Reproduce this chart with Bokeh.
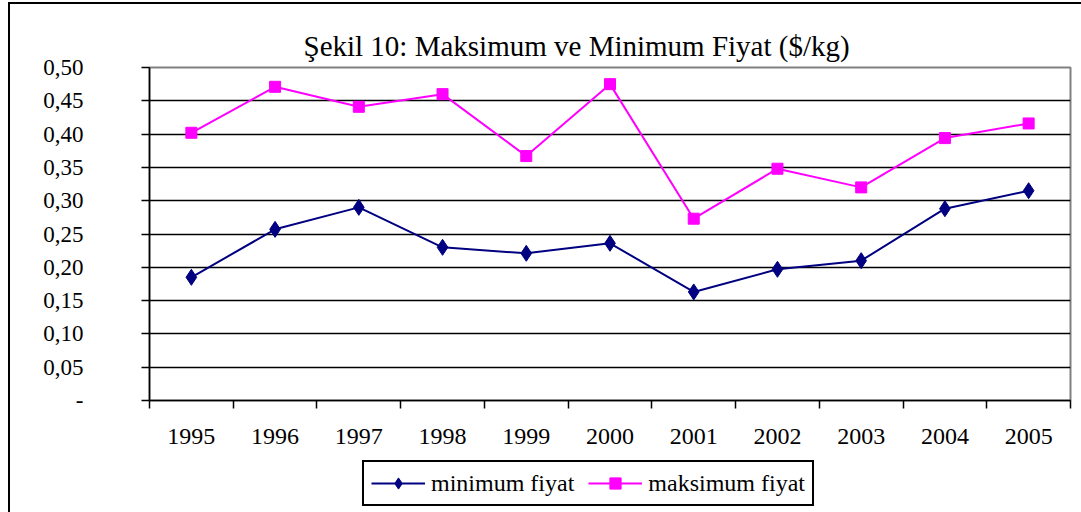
from bokeh.plotting import figure
from bokeh.layouts import column
from bokeh.models import FixedTicker, Legend, LegendItem, Title, Range1d
from bokeh.embed import file_html
from bokeh.resources import INLINE

years = [1995, 1996, 1997, 1998, 1999, 2000, 2001, 2002, 2003, 2004, 2005]
min_fiyat = [0.185, 0.257, 0.290, 0.230, 0.221, 0.236, 0.163, 0.197, 0.210, 0.288, 0.315]
max_fiyat = [0.402, 0.471, 0.441, 0.460, 0.367, 0.475, 0.273, 0.348, 0.320, 0.394, 0.416]
y_ticks = [0.0, 0.05, 0.10, 0.15, 0.20, 0.25, 0.30, 0.35, 0.40, 0.45, 0.50]
y_labels = ["-", "0,05", "0,10", "0,15", "0,20", "0,25", "0,30", "0,35", "0,40", "0,45", "0,50"]
title_text = "Şekil 10: Maksimum ve Minimum Fiyat ($/kg)"
series_names = ["minimum fiyat", "maksimum fiyat"]

FONT = "Liberation Serif"
navy = "#000080"
mag = "#FF00FF"

p = figure(width=1071, height=450, output_backend="svg", toolbar_location=None,
           x_range=Range1d(years[0] - 0.5, years[-1] + 0.5),
           y_range=Range1d(y_ticks[0], y_ticks[-1]),
           min_border_left=139, min_border_right=11, min_border_top=63, min_border_bottom=54)

p.title = None
t = Title(text=title_text, align="left", text_font=FONT, text_font_size="29px",
          text_font_style="normal", text_color="black", offset=154, standoff=12)
p.add_layout(t, "above")

p.outline_line_color = "#808080"
p.outline_line_width = 2

# y axis
p.yaxis.ticker = FixedTicker(ticks=y_ticks)
p.yaxis.major_label_overrides = {v: s for v, s in zip(y_ticks, y_labels)}
p.yaxis.major_label_text_font = FONT
p.yaxis.major_label_text_font_size = "23px"
p.yaxis.major_label_text_color = "black"
p.yaxis.major_tick_out = 8
p.yaxis.major_tick_in = 0
p.yaxis.major_tick_line_color = "black"
p.yaxis.major_tick_line_width = 1.5
p.yaxis.minor_tick_line_color = None
p.yaxis.axis_line_color = "black"
p.yaxis.axis_line_width = 1.5
p.yaxis.major_label_standoff = 58

# x axis: labels at centres, tick marks between categories
bounds = [years[0] - 0.5] + [y + 0.5 for y in years]
p.xaxis.ticker = FixedTicker(ticks=years, minor_ticks=bounds)
p.xaxis.major_label_overrides = {y: str(y) for y in years}
p.xaxis.major_label_text_font = FONT
p.xaxis.major_label_text_font_size = "24px"
p.xaxis.major_label_text_color = "black"
p.xaxis.major_tick_line_color = None
p.xaxis.major_tick_out = 0
p.xaxis.major_tick_in = 0
p.xaxis.minor_tick_out = 8
p.xaxis.minor_tick_in = 0
p.xaxis.minor_tick_line_color = "black"
p.xaxis.minor_tick_line_width = 1.5
p.xaxis.axis_line_color = "black"
p.xaxis.axis_line_width = 1.5
p.xaxis.major_label_standoff = 20

p.xgrid.grid_line_color = None
p.ygrid.grid_line_color = "black"
p.ygrid.grid_line_width = 1.5
p.ygrid.ticker = FixedTicker(ticks=y_ticks)

p.line(years, min_fiyat, line_color=navy, line_width=2)
p.scatter(years, min_fiyat, marker="diamond", size=16, fill_color=navy, line_color=navy)
p.line(years, max_fiyat, line_color=mag, line_width=2)
p.scatter(years, max_fiyat, marker="square", size=11, fill_color=mag, line_color=mag)

# legend strip (series drawn out of view so only the legend shows)
p2 = figure(width=1071, height=58, output_backend="svg", toolbar_location=None,
            x_range=Range1d(0, 1), y_range=Range1d(0, 1),
            min_border=0, outline_line_color=None)
p2.axis.visible = False
p2.grid.visible = False
l1 = p2.line(years, min_fiyat, line_color=navy, line_width=2)
m1 = p2.scatter(years, min_fiyat, marker="diamond", size=16, fill_color=navy, line_color=navy)
l2 = p2.line(years, max_fiyat, line_color=mag, line_width=2)
m2 = p2.scatter(years, max_fiyat, marker="square", size=11, fill_color=mag, line_color=mag)

legend = Legend(items=[LegendItem(label=series_names[0], renderers=[l1, m1]),
                       LegendItem(label=series_names[1], renderers=[l2, m2])],
                orientation="horizontal", location=(213, 6),
                label_text_font=FONT, label_text_font_size="24px", label_text_color="black",
                border_line_color="black", border_line_width=2, border_line_alpha=1,
                glyph_width=54, glyph_height=28, spacing=14, padding=7, margin=0,
                label_standoff=6, label_height=26, background_fill_alpha=1)
p2.add_layout(legend)

layout = column(p, p2, spacing=0)
layout.styles = {"margin-left": "8px", "margin-top": "2px",
                 "border-left": "2px solid black", "border-top": "2px solid black"}

open("out.html", "w").write(file_html(layout, INLINE))
